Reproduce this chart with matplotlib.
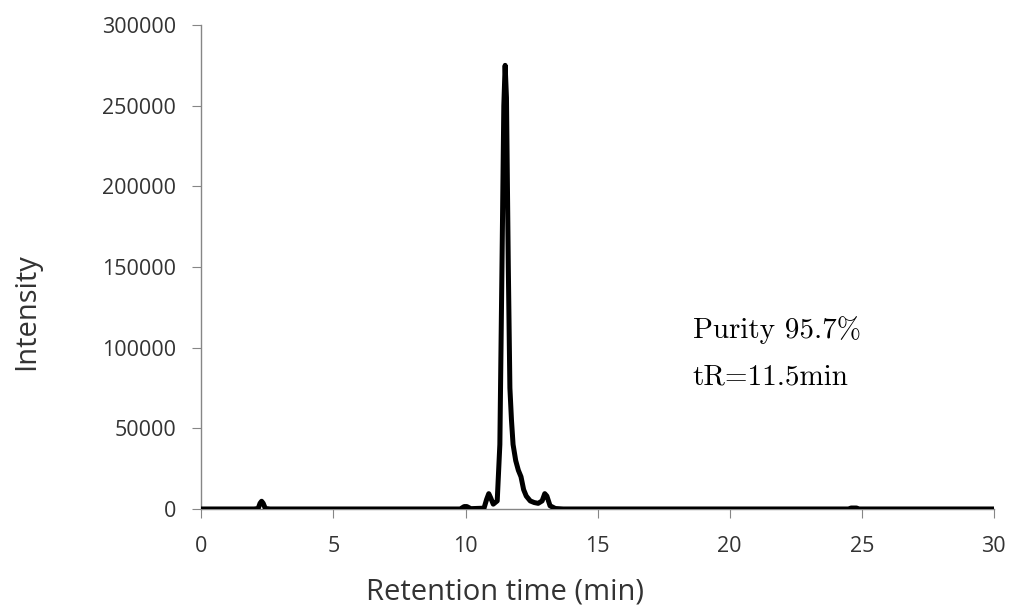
import matplotlib
matplotlib.use("Agg")
import matplotlib.pyplot as plt

# ── data ────────────────────────────────────────────────────────────────────
time_min = [0.0, 2.0, 2.15, 2.22, 2.28, 2.34, 2.42, 2.6,
            9.8, 9.95, 10.05, 10.2, 10.7, 10.8, 10.88, 10.95, 11.05, 11.2,
            11.3, 11.38, 11.45, 11.5, 11.55, 11.62, 11.68, 11.74, 11.8, 11.9,
            12.0, 12.1, 12.2, 12.3, 12.45, 12.6, 12.75, 12.9, 13.0, 13.08,
            13.2, 13.4, 13.7, 24.5, 24.6, 24.8, 24.9, 30.0]
intensity = [0, 0, 300, 3500, 4800, 3500, 300, 0,
             0, 1500, 1500, 200, 500, 6000, 9500, 7000, 3000, 5000,
             40000, 150000, 250000, 275000, 255000, 150000, 75000, 55000, 40000, 30000,
             24000, 20000, 12000, 8000, 5000, 4000, 3500, 5000, 9500, 8000,
             2000, 300, 0, 0, 600, 600, 0, 0]

x_ticks = [0, 5, 10, 15, 20, 25, 30]
y_ticks = [0, 50000, 100000, 150000, 200000, 250000, 300000]
notes = ["Purity 95.7%", "tR=11.5min"]

# ── figure ──────────────────────────────────────────────────────────────────
fig = plt.figure(figsize=(10.12, 6.10), dpi=100)
ax = fig.add_axes([0.199, 0.1656, 0.783, 0.7934])

ax.plot(time_min, intensity, color="black", lw=3.6, solid_capstyle="round",
        solid_joinstyle="round", zorder=3)

ax.set_xlim(0, 30)
ax.set_ylim(0, 300000)
ax.set_xticks(x_ticks)
ax.set_yticks(y_ticks)

grey = "#868686"
txt = "#333333"
for side in ("top", "right"):
    ax.spines[side].set_visible(False)
for side in ("left", "bottom"):
    ax.spines[side].set_color(grey)
    ax.spines[side].set_linewidth(1.0)
ax.tick_params(axis="both", direction="out", length=6.3, color=grey,
               labelsize=15.5, labelcolor=txt)
ax.tick_params(axis="y", pad=12)
ax.tick_params(axis="x", pad=13)
for lab in ax.get_xticklabels() + ax.get_yticklabels():
    lab.set_fontfamily("Open Sans")

# axis titles are centred on the chart area, not on the plot area
ax.set_xlabel("Retention time (min)", fontsize=21, family="Open Sans",
              color=txt, va="center")
ax.xaxis.set_label_coords(0.383, -0.171)
ax.set_ylabel("Intensity", fontsize=21, family="Open Sans",
              color=txt, va="center")
ax.yaxis.set_label_coords(-0.22, 0.407)

serif = ["cmr10", "DejaVu Serif"]
ax.text(18.6, 106000, notes[0], fontsize=21, family=serif,
        va="baseline", ha="left")
ax.text(18.6, 77000, notes[1], fontsize=21, family=serif,
        va="baseline", ha="left")

fig.savefig("out.png", dpi=100)
